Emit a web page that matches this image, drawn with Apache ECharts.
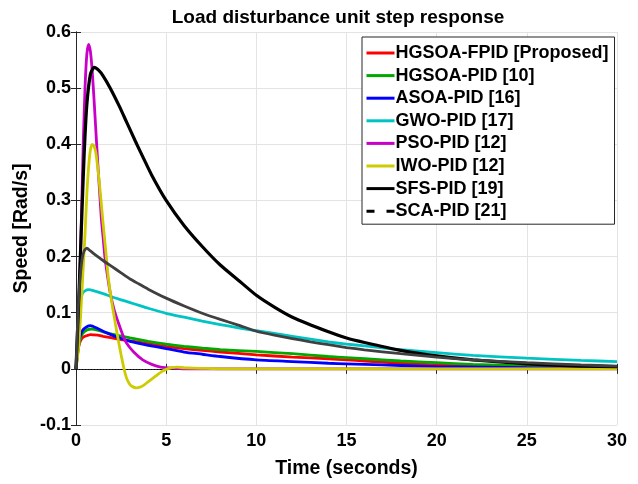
<!DOCTYPE html>
<html>
<head>
<meta charset="utf-8">
<script src="https://cdn.jsdelivr.net/npm/echarts@6/dist/echarts.min.js"></script>
<style>
  html, body { margin: 0; padding: 0; background: #fff; }
  #chart { width: 638px; height: 484px; }
</style>
</head>
<body>
<div id="chart"></div>
<script>
// time (s) and speed values, one pair per controller
var tRed = [0, 0.1, 0.2, 0.35, 0.5, 0.8, 1.2, 1.5, 2, 2.5, 3, 4, 5, 6, 7, 8, 10, 12, 14, 15, 16, 18, 20, 22, 25, 28, 30];
var vRed = [0, 0.03, 0.046, 0.055, 0.058, 0.061, 0.06, 0.058, 0.055, 0.052, 0.05, 0.045, 0.04, 0.036, 0.033, 0.03, 0.025, 0.021, 0.018, 0.016, 0.014, 0.01, 0.007, 0.005, 0.003, 0.002, 0.001];

var tGreen = [0, 0.1, 0.2, 0.35, 0.6, 0.9, 1.5, 2, 3, 4, 5, 6, 7, 8, 10, 12, 14, 15, 16, 18, 20, 22, 25, 28, 30];
var vGreen = [0, 0.03, 0.05, 0.062, 0.069, 0.071, 0.066, 0.062, 0.055, 0.049, 0.044, 0.04, 0.037, 0.034, 0.031, 0.027, 0.022, 0.02, 0.018, 0.014, 0.011, 0.008, 0.005, 0.003, 0.002];

var tBlue = [0, 0.1, 0.2, 0.35, 0.6, 0.8, 1.2, 1.5, 2, 2.5, 3, 4, 5, 6, 7, 8, 10, 12, 14, 15, 16, 18, 20, 25, 30];
var vBlue = [0, 0.035, 0.055, 0.068, 0.075, 0.077, 0.072, 0.067, 0.06, 0.054, 0.049, 0.042, 0.036, 0.03, 0.026, 0.022, 0.016, 0.013, 0.01, 0.009, 0.008, 0.006, 0.004, 0.002, 0.001];

var tCyan = [0, 0.1, 0.2, 0.35, 0.5, 0.7, 1, 1.5, 2, 2.5, 3, 3.5, 4, 5, 6, 7, 8, 9, 10, 12, 14, 15, 16, 18, 20, 22, 25, 28, 30];
var vCyan = [0, 0.07, 0.115, 0.134, 0.139, 0.141, 0.139, 0.134, 0.128, 0.123, 0.118, 0.113, 0.108, 0.099, 0.092, 0.085, 0.079, 0.073, 0.068, 0.058, 0.048, 0.044, 0.041, 0.034, 0.029, 0.024, 0.019, 0.015, 0.013];

var tMagenta = [0, 0.1, 0.2, 0.3, 0.4, 0.5, 0.6, 0.7, 0.8, 0.9, 1, 1.1, 1.2, 1.3, 1.4, 1.5, 1.6, 1.75, 1.9, 2.1, 2.35, 2.6, 2.8, 3.2, 3.7, 4.2, 4.7, 5.5, 6, 30];
var vMagenta = [0, 0.05, 0.15, 0.27, 0.4, 0.5, 0.56, 0.578, 0.565, 0.53, 0.48, 0.425, 0.37, 0.32, 0.27, 0.235, 0.2, 0.165, 0.135, 0.107, 0.082, 0.06, 0.046, 0.03, 0.016, 0.008, 0.003, 0.001, 0, 0];

var tYellow = [0, 0.15, 0.3, 0.4, 0.5, 0.6, 0.7, 0.8, 0.9, 1, 1.1, 1.2, 1.3, 1.4, 1.5, 1.65, 1.8, 2, 2.15, 2.35, 2.5, 2.65, 2.8, 2.95, 3.1, 3.35, 3.6, 3.8, 4, 4.25, 4.5, 4.75, 5, 5.3, 5.6, 6, 7, 8, 30];
var vYellow = [0, 0.04, 0.12, 0.18, 0.24, 0.31, 0.36, 0.39, 0.4, 0.397, 0.385, 0.36, 0.33, 0.295, 0.26, 0.21, 0.16, 0.115, 0.087, 0.05, 0.025, 0.002, -0.016, -0.026, -0.031, -0.034, -0.032, -0.028, -0.023, -0.017, -0.011, -0.005, -0.001, 0.002, 0.003, 0.002, 0.001, 0, 0];

var tBlack = [0, 0.15, 0.32, 0.45, 0.6, 0.8, 1, 1.25, 1.5, 1.9, 2.4, 2.8, 3.3, 3.7, 4.2, 5, 6, 7, 8, 9, 10, 11, 12, 14, 15, 16, 18, 20, 22, 25, 28, 30];
var vBlack = [0, 0.12, 0.27, 0.38, 0.47, 0.525, 0.537, 0.532, 0.522, 0.5, 0.468, 0.44, 0.405, 0.378, 0.345, 0.3, 0.255, 0.218, 0.185, 0.158, 0.131, 0.11, 0.092, 0.066, 0.055, 0.047, 0.033, 0.023, 0.016, 0.009, 0.005, 0.004];

var tGray = [0, 0.1, 0.2, 0.33, 0.45, 0.6, 0.8, 1, 1.5, 2, 2.5, 3, 3.5, 4, 5, 6, 7, 8, 9, 10, 11, 12, 13, 14, 15, 16, 18, 20, 22, 25, 28, 30];
var vGray = [0, 0.09, 0.15, 0.194, 0.21, 0.215, 0.21, 0.205, 0.193, 0.182, 0.171, 0.16, 0.151, 0.142, 0.126, 0.112, 0.099, 0.088, 0.078, 0.067, 0.06, 0.054, 0.048, 0.043, 0.038, 0.034, 0.027, 0.021, 0.016, 0.011, 0.007, 0.005];

var names = ['HGSOA-FPID [Proposed]', 'HGSOA-PID [10]', 'ASOA-PID [16]', 'GWO-PID [17]', 'PSO-PID [12]', 'IWO-PID [12]', 'SFS-PID [19]', 'SCA-PID [21]'];
var colors = ['#ff0000', '#00a800', '#0000ff', '#00c4c4', '#c800c8', '#cccc00', '#000000', '#404040'];
var xTicks = [0, 5, 10, 15, 20, 25, 30];

function pairs(t, v) {
  return t.map(function (x, i) { return [x, v[i]]; });
}

var curves = [
  [tRed, vRed], [tGreen, vGreen], [tBlue, vBlue], [tCyan, vCyan],
  [tMagenta, vMagenta], [tYellow, vYellow], [tBlack, vBlack], [tGray, vGray]
];

var font = 'Liberation Sans';
var axisColor = '#262626';

var series = curves.map(function (c, i) {
  return {
    name: names[i],
    type: 'line',
    data: pairs(c[0], c[1]),
    symbol: 'none',
    smooth: 0.2,
    z: 3 + i,
    lineStyle: { color: colors[i], width: i === 6 ? 3.2 : 2.8 },
    itemStyle: { color: colors[i] }
  };
});

// dotted zero reference line
series[0].markLine = {
  silent: true,
  symbol: 'none',
  label: { show: false },
  lineStyle: { color: '#000', type: [1, 2], width: 1 },
  data: [{ yAxis: 0 }]
};

// SCA is a dense dashed black line: gray on the plot, "- -" in the legend
var legendData = names.map(function (n, i) {
  if (i === 7) {
    return { name: n, lineStyle: { type: [8, 12], color: '#000', width: 3 } };
  }
  return { name: n };
});

var option = {
  backgroundColor: '#fff',
  animation: false,
  title: {
    text: 'Load disturbance unit step response',
    left: 333, top: 3, textAlign: 'center',
    textStyle: { fontFamily: font, fontWeight: 'bold', fontSize: 19, color: '#000' }
  },
  grid: { left: 76, right: 21, top: 32, bottom: 59 },
  legend: {
    orient: 'vertical',
    left: 362, top: 37,
    itemWidth: 28, itemHeight: 14, itemGap: 4.6,
    padding: [7, 6, 4, 3],
    backgroundColor: '#fff',
    borderColor: axisColor, borderWidth: 1, borderRadius: 0,
    itemStyle: { opacity: 0 },
    lineStyle: { width: 3 },
    textStyle: { fontFamily: font, fontWeight: 'bold', fontSize: 18, color: '#000', padding: [0, 0, 0, -4] },
    data: legendData
  },
  xAxis: [{
    type: 'value', min: 0, max: 30, interval: 5,
    name: 'Time (seconds)', nameLocation: 'middle', nameGap: 34,
    nameTextStyle: { fontFamily: font, fontWeight: 'bold', fontSize: 19.5, color: '#000' },
    axisLine: { show: true, lineStyle: { color: axisColor } },
    axisTick: { show: true, inside: true, length: 5, lineStyle: { color: axisColor } },
    axisLabel: { fontFamily: font, fontWeight: 'bold', fontSize: 18, color: '#000', margin: 7,
      formatter: function (v) { return xTicks.indexOf(v) >= 0 ? String(v) : ''; } },
    splitLine: { show: true, lineStyle: { color: '#e3e3e3' } }
  }, {
    type: 'value', min: 0, max: 30, interval: 5, position: 'top',
    axisLine: { show: true, lineStyle: { color: axisColor } },
    axisTick: { show: true, inside: true, length: 5, lineStyle: { color: axisColor } },
    axisLabel: { show: false }, splitLine: { show: false }
  }],
  yAxis: [{
    type: 'value', min: -0.1, max: 0.6, interval: 0.1,
    name: 'Speed [Rad/s]', nameLocation: 'middle', nameGap: 44, nameMoveOverlap: false,
    nameTextStyle: { fontFamily: font, fontWeight: 'bold', fontSize: 19.5, color: '#000' },
    axisLine: { show: true, lineStyle: { color: axisColor } },
    axisTick: { show: true, inside: true, length: 5, lineStyle: { color: axisColor } },
    axisLabel: { fontFamily: font, fontWeight: 'bold', fontSize: 18, color: '#000', margin: 5,
      formatter: function (v) { return String(+v.toFixed(1)); } },
    splitLine: { show: true, lineStyle: { color: '#e3e3e3' } }
  }, {
    type: 'value', min: -0.1, max: 0.6, interval: 0.1, position: 'right',
    axisLine: { show: true, lineStyle: { color: axisColor } },
    axisTick: { show: true, inside: true, length: 5, lineStyle: { color: axisColor } },
    axisLabel: { show: false }, splitLine: { show: false }
  }],
  series: series
};

var myChart = echarts.init(document.getElementById('chart'));
myChart.setOption(option);
</script>
</body>
</html>
